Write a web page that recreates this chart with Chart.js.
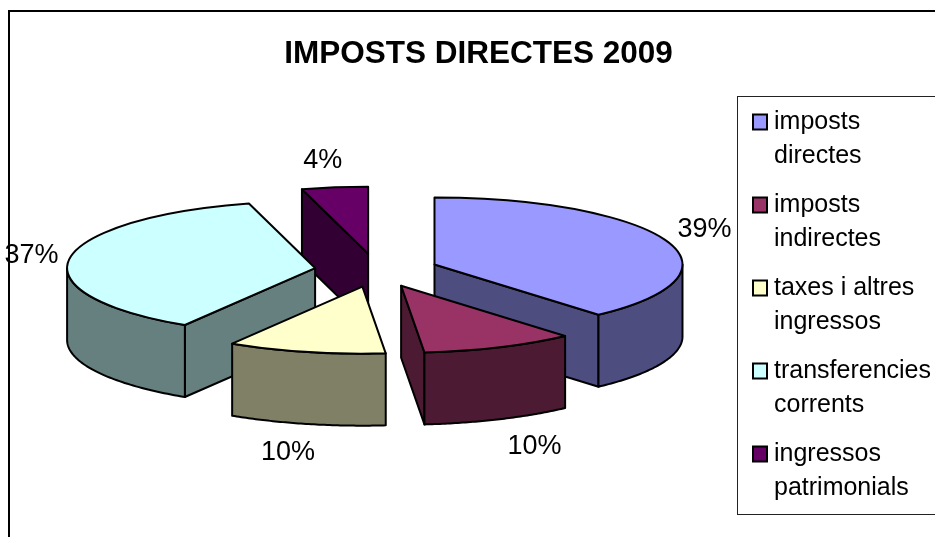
<!DOCTYPE html>
<html>
<head>
<meta charset="utf-8">
<style>
  html, body { margin: 0; padding: 0; background: #fff; }
  #wrap { width: 935px; height: 537px; }
</style>
<script src="https://cdn.jsdelivr.net/npm/chart.js@4"></script>
</head>
<body>
<div id="wrap"><canvas id="pie"></canvas></div>
<script>
const chartTitle = 'IMPOSTS DIRECTES 2009';
const categories = [
    ['imposts', 'directes'],
    ['imposts', 'indirectes'],
    ['taxes i altres', 'ingressos'],
    ['transferencies', 'corrents'],
    ['ingressos', 'patrimonials']
];
// labels show them rounded
const values = [38.5, 10, 10.3, 36.9, 4.3];
const topColors = ['#9999ff', '#993366', '#ffffcc', '#ccffff', '#660066'];
const sideColors = ['#4d4d80', '#4d1a33', '#808066', '#668080', '#330033'];

// look of the fake 3D pie
const squash = 0.27;
const depth = 72;
const explode = 62;
const pieRadius = 248;
const labelNudge = [[38, -11], [35, 99], [-18, 101], [-38, -3], [-12, -27]];

function centerY(chart) {
    return (chart.chartArea.top + chart.chartArea.bottom) / 2;
}

// chart plane -> screen
function project(chart, x, y) {
    const cy = centerY(chart);
    return {x: x, y: cy + (y - cy) * squash};
}

function rimPoint(chart, el, a) {
    return project(chart, el.x + Math.cos(a) * el.outerRadius, el.y + Math.sin(a) * el.outerRadius);
}

function outline(ctx) {
    ctx.lineWidth = 2;
    ctx.lineJoin = 'round';
    ctx.strokeStyle = '#000';
    ctx.stroke();
}

function cutWall(ctx, chart, el, a, color) {
    const apex = project(chart, el.x, el.y);
    const p = rimPoint(chart, el, a);
    ctx.beginPath();
    ctx.moveTo(apex.x, apex.y);
    ctx.lineTo(p.x, p.y);
    ctx.lineTo(p.x, p.y + depth);
    ctx.lineTo(apex.x, apex.y + depth);
    ctx.closePath();
    ctx.fillStyle = color;
    ctx.fill();
    outline(ctx);
}

function rimWall(ctx, chart, el, color) {
    // only the front half of the rim can be seen
    const a0 = Math.max(el.startAngle, 0);
    const a1 = Math.min(el.endAngle, Math.PI);
    if (a1 <= a0) return;
    ctx.beginPath();
    for (let i = 0; i <= 60; i++) {
        const p = rimPoint(chart, el, a0 + (a1 - a0) * i / 60);
        ctx.lineTo(p.x, p.y);
    }
    for (let i = 60; i >= 0; i--) {
        const p = rimPoint(chart, el, a0 + (a1 - a0) * i / 60);
        ctx.lineTo(p.x, p.y + depth);
    }
    ctx.closePath();
    ctx.fillStyle = color;
    ctx.fill();
    outline(ctx);
}

const pie3d = {
    id: 'pie3d',
    afterLayout(chart) {
        // legend box sits on its own, not tied to the pie
        const lg = chart.legend;
        lg.left = 737;
        lg.right = 935;
        lg.width = 198;
        lg.top = 100;
        lg.bottom = 519;
        lg.height = 419;
    },
    afterDatasetsUpdate(chart) {
        // pull slices away from the centre along their middle angle
        chart.getDatasetMeta(0).data.forEach(el => {
            const mid = (el.startAngle + el.endAngle) / 2;
            el.x += Math.cos(mid) * explode;
            el.y += Math.sin(mid) * explode;
        });
    },
    beforeDatasetsDraw(chart) {
        const ctx = chart.ctx;
        const arcs = chart.getDatasetMeta(0).data;
        const order = arcs.map((el, i) => i).sort((a, b) => arcs[a].y - arcs[b].y);
        ctx.save();
        order.forEach(i => {
            const el = arcs[i];
            if (Math.cos(el.startAngle) < -1e-6) cutWall(ctx, chart, el, el.startAngle, sideColors[i]);
            if (Math.cos(el.endAngle) > 1e-6) cutWall(ctx, chart, el, el.endAngle, sideColors[i]);
            rimWall(ctx, chart, el, sideColors[i]);
        });
        ctx.restore();
        ctx.save();
        const cy = centerY(chart);
        ctx.translate(0, cy);
        ctx.scale(1, squash);
        ctx.translate(0, -cy);
    },
    afterDatasetsDraw(chart) {
        const ctx = chart.ctx;
        const arcs = chart.getDatasetMeta(0).data;
        // path built squashed, stroked with a round pen
        arcs.forEach(el => {
            ctx.beginPath();
            ctx.moveTo(el.x, el.y);
            ctx.arc(el.x, el.y, el.outerRadius, el.startAngle, el.endAngle);
            ctx.closePath();
            ctx.save();
            ctx.setTransform(1, 0, 0, 1, 0, 0);
            outline(ctx);
            ctx.restore();
        });
        ctx.restore();

        // percent labels outside each slice
        ctx.save();
        ctx.font = '27px "Liberation Sans"';
        ctx.fillStyle = '#000';
        ctx.textAlign = 'center';
        ctx.textBaseline = 'middle';
        arcs.forEach((el, i) => {
            const p = rimPoint(chart, el, (el.startAngle + el.endAngle) / 2);
            ctx.fillText(Math.round(values[i]) + '%', p.x + labelNudge[i][0], p.y + labelNudge[i][1]);
        });
        ctx.restore();
    },
    afterDraw(chart) {
        const ctx = chart.ctx;
        const lg = chart.legend;
        ctx.save();
        // outer frame, open on the right and bottom
        ctx.strokeStyle = '#000';
        ctx.lineWidth = 2;
        ctx.beginPath();
        ctx.moveTo(9, 537);
        ctx.lineTo(9, 11);
        ctx.lineTo(935, 11);
        ctx.stroke();
        // legend box and swatches
        ctx.lineWidth = 1;
        ctx.strokeStyle = '#222';
        ctx.strokeRect(lg.left + 0.5, lg.top - 3.5, lg.width + 2, lg.height - 1);
        lg.legendHitBoxes.forEach((hit, i) => {
            ctx.fillStyle = topColors[i];
            ctx.fillRect(753, hit.top + 5, 14, 15);
            ctx.lineWidth = 2;
            ctx.strokeStyle = '#000';
            ctx.strokeRect(753, hit.top + 5, 14, 15);
        });
        ctx.restore();
    }
};

new Chart(document.getElementById('pie').getContext('2d'), {
    type: 'pie',
    data: {
        labels: categories,
        datasets: [{
            data: values,
            backgroundColor: topColors,
            borderWidth: 0
        }]
    },
    options: {
        responsive: true,
        maintainAspectRatio: false,
        animation: false,
        events: [],
        radius: pieRadius,
        layout: { padding: { left: 22, top: 35, right: 0, bottom: 69 } },
        plugins: {
            title: {
                display: true,
                text: chartTitle,
                color: '#000',
                font: { family: '"Liberation Sans"', size: 31.5, weight: 'bold' },
                padding: 0
            },
            legend: {
                position: 'right',
                labels: {
                    color: '#000',
                    font: { family: '"Liberation Sans"', size: 25, lineHeight: 1.36 },
                    boxWidth: 9.5,
                    boxHeight: 14,
                    padding: 15,
                    generateLabels() {
                        // swatches are drawn by pie3d, closer to the text than the default gap
                        return categories.map((c, i) => ({
                            text: c,
                            fillStyle: 'rgba(0,0,0,0)',
                            strokeStyle: 'rgba(0,0,0,0)',
                            lineWidth: 0,
                            index: i
                        }));
                    }
                }
            },
            tooltip: { enabled: false }
        }
    },
    plugins: [pie3d]
});
</script>
</body>
</html>
